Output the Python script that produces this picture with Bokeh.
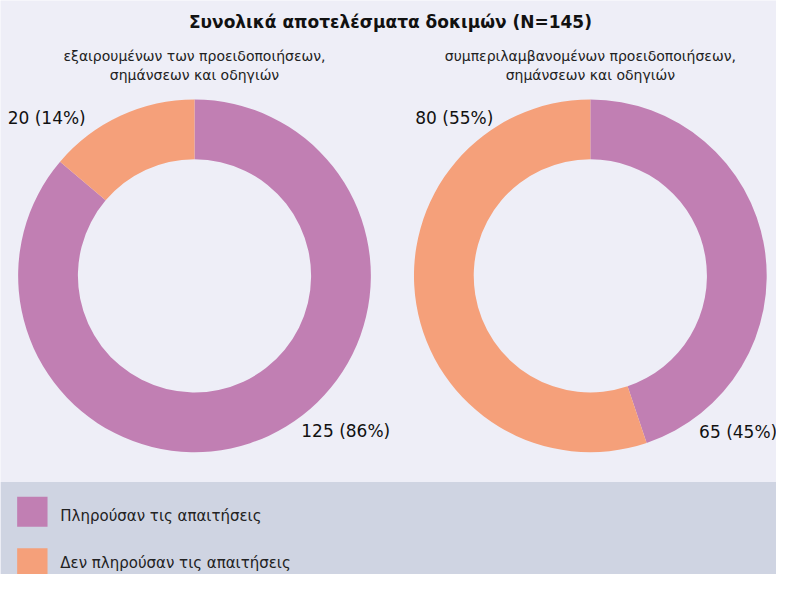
from bokeh.plotting import figure
from bokeh.models import Range1d
from bokeh.core.properties import value
from bokeh.embed import file_html
from bokeh.resources import INLINE
import math

# ---- data ----
title = "Συνολικά αποτελέσματα δοκιμών (N=145)"
subtitles_left = ["εξαιρουμένων των προειδοποιήσεων,", "σημάνσεων και οδηγιών"]
subtitles_right = ["συμπεριλαμβανομένων προειδοποιήσεων,", "σημάνσεων και οδηγιών"]
categories = ["Πληρούσαν τις απαιτήσεις", "Δεν πληρούσαν τις απαιτήσεις"]
values_left = [125, 20]
values_right = [65, 80]
colors = ["#c17fb3", "#f5a07a"]

BG = "#eeeef7"
LEG_BG = "#cfd4e2"
FONT = value("DejaVu Sans")
W, H = 792, 590

p = figure(width=776, height=574, x_range=Range1d(0, W), y_range=Range1d(0, H),
           output_backend="svg", toolbar_location=None, min_border=0)
p.axis.visible = False
p.grid.visible = False
p.outline_line_color = None
p.background_fill_color = BG
p.border_fill_color = BG


def Y(y):
    return H - y


# legend band
p.quad(left=[0], right=[W], bottom=[0], top=[Y(495)], color=LEG_BG, line_color=None)

R_OUT, R_IN = 180, 119
CY = 283


def donut(cx, vals, lab_offsets):
    total = sum(vals)
    cum = 0
    starts, ends = [], []
    for v in vals:
        end = math.pi / 2 - 2 * math.pi * cum / total
        cum += v
        start = math.pi / 2 - 2 * math.pi * cum / total
        starts.append(start)
        ends.append(end)
    p.annular_wedge(x=[cx] * len(vals), y=[Y(CY)] * len(vals), inner_radius=R_IN, outer_radius=R_OUT,
                    start_angle=starts, end_angle=ends, fill_color=colors, line_color=None)
    labels = [f"{v} ({round(100 * v / total)}%)" for v in vals]
    (dx0, dy0), (dx1, dy1) = lab_offsets
    p.text(x=[cx + dx0], y=[Y(CY + dy0)], text=[labels[0]], text_font=FONT, text_font_size="17px",
           text_align="left", text_baseline="middle", text_color="#111111")
    p.text(x=[cx + dx1], y=[Y(CY + dy1)], text=[labels[1]], text_font=FONT, text_font_size="17px",
           text_align="right", text_baseline="middle", text_color="#111111")


donut(198, values_left, [(109, 160), (-111, -162)])
donut(602, values_right, [(111, 161), (-99, -162)])

# title
p.text(x=[398], y=[Y(22)], text=[title], text_font=FONT, text_font_size="17px", text_font_style="bold",
       text_align="center", text_baseline="middle", text_color="#111111")

# subtitles
for cx, lines in [(198, subtitles_left), (602, subtitles_right)]:
    p.text(x=[cx, cx], y=[Y(57), Y(77)], text=lines, text_font=FONT, text_font_size="14px",
           text_align="center", text_baseline="middle", text_color="#222222")

# legend
p.quad(left=[17, 17], right=[48, 48], top=[Y(510), Y(563)], bottom=[Y(541), Y(594)],
       fill_color=colors, line_color=None)
p.text(x=[61, 61], y=[Y(530), Y(578)], text=categories, text_font=FONT, text_font_size="15px",
       text_align="left", text_baseline="middle", text_color="#222222")

open("out.html", "w").write(file_html(p, INLINE))
